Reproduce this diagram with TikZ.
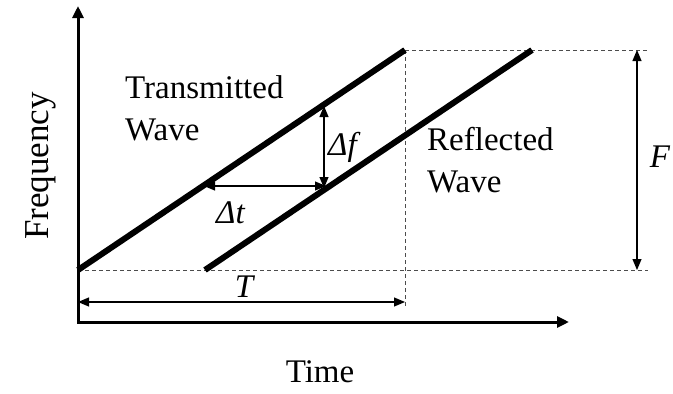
\documentclass[tikz,border=0pt]{standalone}
\usepackage{fontspec}
\setmainfont{Liberation Serif}
\usetikzlibrary{arrows.meta}
\begin{document}
\begin{tikzpicture}[x=1pt,y=-1pt,
  axis/.style={line width=3pt,-{Triangle[length=12pt,width=11pt]}},
  wave/.style={line width=6pt},
  guide/.style={line width=0.9pt,gray!60!black,dash pattern=on 4pt off 3pt},
  dim/.style={line width=1.1pt,{Triangle[length=11pt,width=9pt]}-{Triangle[length=11pt,width=9pt]}},
  lbl/.style={font=\fontsize{33}{42}\selectfont,inner sep=0pt,align=left},
  ilbl/.style={font=\fontsize{33}{42}\selectfont\itshape,inner sep=0pt}]
\useasboundingbox (0,0) rectangle (673,394);
% coordinates
\coordinate (O) at (78,322);
\coordinate (Ytop) at (78,6);
\coordinate (Xend) at (569,322);
\coordinate (T0) at (78,270);
\coordinate (T1) at (405,50);
\coordinate (R0) at (205,270);
\coordinate (R1) at (532,50);
\coordinate (Hl) at (648,270);
\coordinate (Hu) at (648,50);
\coordinate (Vb) at (405,308);
\coordinate (Fa) at (637,50);
\coordinate (Fb) at (637,270);
\coordinate (Ta) at (78,302);
\coordinate (Tb) at (405,302);
\coordinate (Dfa) at (324,106);
\coordinate (Dfb) at (324,188);
\coordinate (Dta) at (204,186);
\coordinate (Dtb) at (326,186);
% guides
\draw[guide] (T0) -- (Hl);
\draw[guide] (T1) -- (Hu);
\draw[guide] (T1) -- (Vb);
% axes
\draw[axis] (O) -- (Ytop);
\draw[axis] (O) -- (Xend);
\draw[line width=3pt] (77,322) -- (O);
% waves
\draw[wave] (T0) -- (T1);
\draw[wave] (R0) -- (R1);
% dimensions
\draw[dim] (Fa) -- (Fb);
\draw[dim] (Ta) -- (Tb);
\draw[dim] (Dfa) -- (Dfb);
\draw[dim] (Dta) -- (Dtb);
% labels
\node[lbl,anchor=base west] (tw) at (125,140) {Transmitted\\Wave};
\node[lbl,anchor=base west] (rw) at (427,192) {Reflected\\Wave};
\node[lbl,anchor=base] (time) at (320,382) {Time};
\node[lbl,anchor=base,rotate=90,font=\fontsize{35}{42}\selectfont] (freq) at (48,166) {Frequency};
\node[ilbl,anchor=base] (F) at (660,167) {F};
\node[ilbl,anchor=base] (T) at (244,297) {T};
\node[ilbl,anchor=base west] (df) at (328,155) {Δf};
\node[ilbl,anchor=base west] (dt) at (216,223) {Δt};
\end{tikzpicture}
\end{document}
